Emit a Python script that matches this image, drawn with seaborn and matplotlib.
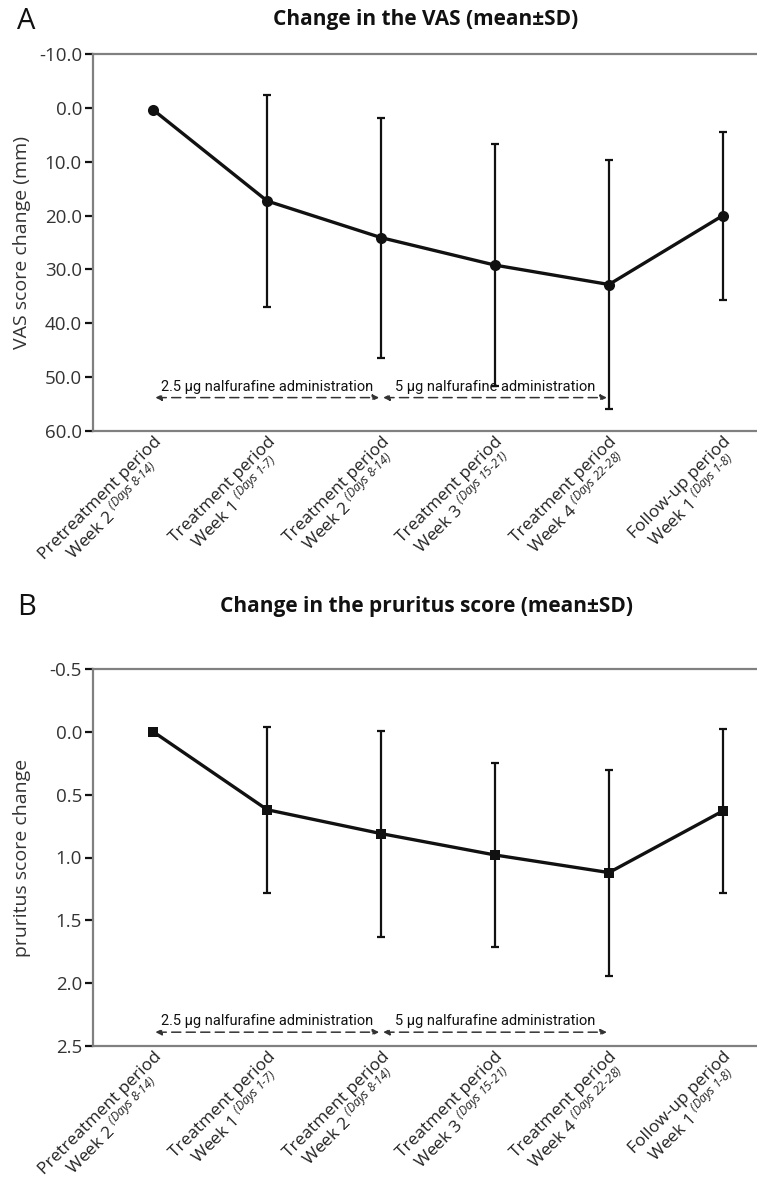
import numpy as np
import pandas as pd
import matplotlib
matplotlib.use('Agg')
import matplotlib.pyplot as plt
from matplotlib.ticker import FormatStrFormatter
import seaborn as sns

periods = ['Pretreatment period\nWeek 2', 'Treatment period\nWeek 1', 'Treatment period\nWeek 2',
           'Treatment period\nWeek 3', 'Treatment period\nWeek 4', 'Follow-up period\nWeek 1']
days = ['Days 8-14', 'Days 1-7', 'Days 8-14', 'Days 15-21', 'Days 22-28', 'Days 1-8']

vas_mean = [0.4, 17.3, 24.1, 29.2, 32.8, 20.0]
vas_sd = [np.nan, 19.6, 22.3, 22.4, 23.1, 15.6]
vas_ticks = [-10, 0, 10, 20, 30, 40, 50, 60]

pruritus_mean = [0.0, 0.62, 0.81, 0.98, 1.12, 0.63]
pruritus_sd = [np.nan, 0.66, 0.82, 0.73, 0.82, 0.65]
pruritus_ticks = [-0.5, 0.0, 0.5, 1.0, 1.5, 2.0, 2.5]

dose_labels = ['2.5 \u03bcg nalfurafine administration', '5 \u03bcg nalfurafine administration']
dose_spans = [(0, 2), (2, 4)]

sns.set_style('ticks')
plt.rcParams['font.family'] = ['Open Sans', 'DejaVu Sans']
plt.rcParams['mathtext.fontset'] = 'custom'
plt.rcParams['mathtext.rm'] = 'Open Sans:italic'

fig = plt.figure(figsize=(7.57, 11.91), dpi=100)
W, H = 757, 1191


def tick_label(p, d):
    return p + ' $^{\\text{(' + d + ')}}$'


def draw_panel(ax, mean, sd, marker, ms, ticks, ylabel, title, letter, arrow_y, text_y, title_px, letter_px):
    df = pd.DataFrame({'x': np.arange(len(mean)), 'mean': mean, 'sd': sd})
    ax.errorbar(df['x'], df['mean'], yerr=df['sd'], fmt='none', ecolor='#111111',
                elinewidth=1.6, capsize=3, capthick=1.6, zorder=2)
    sns.lineplot(data=df, x='x', y='mean', ax=ax, color='#111111', lw=2.4,
                 marker=marker, markersize=ms, markeredgewidth=0, zorder=3)
    ax.set_xlim(-0.53, 5.3)
    ax.set_ylim(ticks[-1], ticks[0])
    ax.set_yticks(ticks)
    ax.yaxis.set_major_formatter(FormatStrFormatter('%.1f'))
    ax.set_xticks(df['x'])
    ax.set_xticklabels([tick_label(p, d) for p, d in zip(periods, days)], rotation=45,
                       ha='right', va='top', rotation_mode='anchor', multialignment='center',
                       linespacing=1.0, fontsize=12.5, color='#222222')
    ax.tick_params(axis='x', length=0, pad=2)
    ax.tick_params(axis='y', length=6, width=1.6, color='#111111', labelsize=13.5,
                   labelcolor='#333333', pad=2)
    for s in ['left', 'top', 'bottom']:
        ax.spines[s].set_color('#808080')
        ax.spines[s].set_linewidth(1.6)
    ax.spines['right'].set_visible(False)
    ax.set_xlabel('')
    ax.set_ylabel(ylabel, fontsize=14, color='#333333')
    ax.yaxis.set_label_coords(-0.093, 0.5)
    for (x0, x1), lab in zip(dose_spans, dose_labels):
        ax.annotate('', xy=(x1, arrow_y), xytext=(x0, arrow_y),
                    arrowprops=dict(arrowstyle='<|-|>', color='#333333', lw=1.1,
                                    linestyle=(0, (6, 3.5)), mutation_scale=9,
                                    shrinkA=1.5, shrinkB=1.5))
        ax.text((x0 + x1) / 2, text_y, lab, ha='center', va='baseline', fontsize=10.5,
                family=['Roboto', 'DejaVu Sans'], color='#111111')
    fig.text(426 / W, 1 - title_px / H, title, ha='center', va='center', fontsize=15,
             fontweight='bold', color='#111111')
    fig.text(17 / W, 1 - letter_px / H, letter, ha='left', va='top', fontsize=21, color='#111111')


ax1 = fig.add_axes([93 / W, 1 - 431 / H, 664 / W, 377 / H])
draw_panel(ax1, vas_mean, vas_sd, 'o', 8, vas_ticks, 'VAS score change (mm)',
           'Change in the VAS (mean\u00b1SD)', 'A', 53.8, 52.6, 20, 7)

ax2 = fig.add_axes([93 / W, 1 - 1046 / H, 664 / W, 377 / H])
draw_panel(ax2, pruritus_mean, pruritus_sd, 's', 7, pruritus_ticks, 'pruritus score change',
           'Change in the pruritus score (mean\u00b1SD)', 'B', 2.39, 2.33, 606, 593)

fig.savefig('out.png', dpi=100)
